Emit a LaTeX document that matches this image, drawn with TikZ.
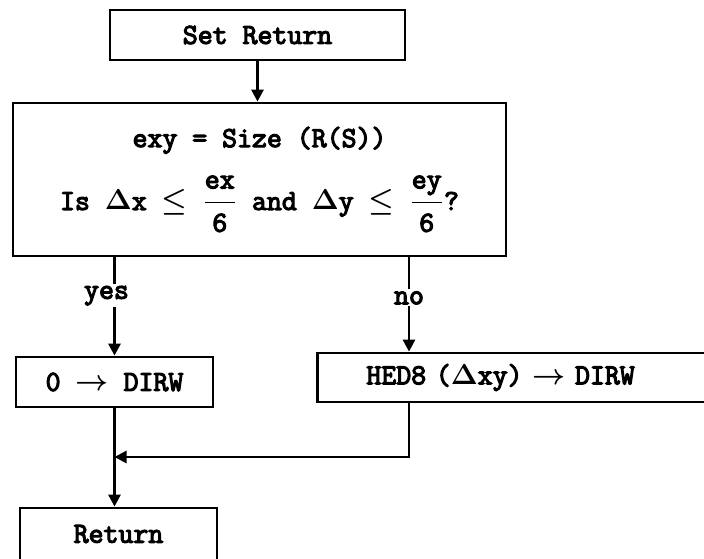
\documentclass[tikz,border=0pt]{standalone}
\usepackage{amsmath}
\usepackage{fontspec}
\newfontfamily\flowtt{Latin Modern Mono}[FakeBold=4]
\usetikzlibrary{arrows.meta,positioning,calc}

\begin{document}
\begin{tikzpicture}[x=0.5pt,y=0.5pt,
  box/.style={draw,line width=1.4pt,inner sep=0pt,font=\flowtt\boldmath\fontsize{14.5}{17}\selectfont},
  flow/.style={line width=1.4pt,-{Triangle[length=6pt,width=6pt]}},
  lbl/.style={fill=white,inner sep=1pt,font=\flowtt\fontsize{14.5}{17}\selectfont}]
\useasboundingbox (0,0) rectangle (704,558);
% boxes
\node[box,minimum width=147.5pt,minimum height=25pt] (setret) at (257.5,523) {Set Return};
\node[box,minimum width=246.5pt,minimum height=76.5pt,align=center] (cond) at (259.5,378.5)
  {exy = Size (R(S))\\[10pt]
   Is $\Delta$x $\leq$ $\dfrac{\text{ex}}{\text{6}}$ and $\Delta$y $\leq$ $\dfrac{\text{ey}}{\text{6}}$?};
\node[box,minimum width=98.5pt,minimum height=25pt] (zero) at (114.5,176) {0 $\rightarrow$ DIRW};
\node[box,anchor=west,minimum height=24.5pt,inner xsep=24.5pt,text width=151pt,align=left] (hed) at (316,180.5) {HED8 ($\Delta$xy) $\rightarrow$ DIRW};
\node[box,minimum width=98.5pt,minimum height=26pt] (ret) at (118.5,24) {Return};
\coordinate (nox) at ([xshift=46.5pt]hed.north west);
\coordinate (merge) at (114.5,101);
% connectors
\draw[flow] (setret.south) -- (setret.south |- cond.north);
\draw[flow] (zero.north |- cond.south) -- node[lbl,pos=0.39,xshift=-4pt]{yes} (zero.north);
\draw[flow] (nox |- cond.south) -- node[lbl,pos=0.43]{no} (nox);
\draw[flow] (nox |- hed.south) |- (merge);
\draw[flow] (zero.south) -- (zero.south |- ret.north);
\end{tikzpicture}
\end{document}
